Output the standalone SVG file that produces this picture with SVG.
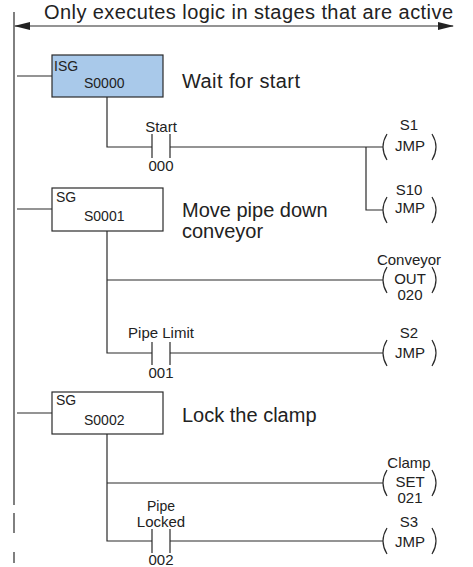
<svg xmlns="http://www.w3.org/2000/svg" width="473" height="567" viewBox="0 0 473 567">
<style>
.ln{stroke:#2a2a2a;stroke-width:1.2;fill:none}
.t{font-family:"Liberation Sans",Arial,sans-serif;fill:#222}
.s{font-size:14px}
.m{font-size:15px;text-anchor:middle}
.b{font-size:20px}
.box{stroke:#2a2a2a;stroke-width:1.2}
</style>
<defs>
<marker id="ah" markerWidth="16" markerHeight="8" refX="15" refY="4" orient="auto-start-reverse" markerUnits="userSpaceOnUse">
<path d="M0,0 L16,4 L0,8 Z" fill="#222"/>
</marker>
</defs>
<rect width="473" height="567" fill="#fff"/>
<text class="t b" x="44" y="19" textLength="409">Only executes logic in stages that are active</text>
<g id="connectors">
<line class="ln" x1="14" y1="12" x2="14" y2="505"/>
<line class="ln" x1="14" y1="513" x2="14" y2="533"/>
<line class="ln" x1="14" y1="552" x2="14" y2="563"/>
<line class="ln" x1="15" y1="26" x2="453" y2="26" marker-start="url(#ah)" marker-end="url(#ah)"/>
<line class="ln" x1="17" y1="76" x2="52" y2="76"/>
<line class="ln" x1="17" y1="209" x2="52" y2="209"/>
<line class="ln" x1="17" y1="413" x2="52" y2="413"/>
<path class="ln" d="M107,97 V147 H152 M170,147 H383 M366,147 V210 H383"/>
<path class="ln" d="M107,231 V353 H152 M170,353 H383 M107,280 H383"/>
<path class="ln" d="M107,434 V541 H152 M170,541 H383 M107,483 H383"/>
</g>
<g id="isg0">
<rect class="box" x="52" y="55" width="111" height="42" fill="#a9c9ea"/>
<text class="t s" x="54" y="71">ISG</text>
<text class="t s" x="84" y="88">S0000</text>
<text class="t b" x="182" y="88" textLength="118">Wait for start</text>
</g>
<g id="sg1">
<rect class="box" x="52" y="188" width="111" height="43" fill="#fff"/>
<text class="t s" x="56" y="202">SG</text>
<text class="t s" x="84" y="221">S0001</text>
<text class="t b" x="182" y="217">Move pipe down</text>
<text class="t b" x="182" y="238">conveyor</text>
</g>
<g id="sg2">
<rect class="box" x="52" y="392" width="111" height="42" fill="#fff"/>
<text class="t s" x="56" y="405">SG</text>
<text class="t s" x="84" y="425">S0002</text>
<text class="t b" x="182" y="422">Lock the clamp</text>
</g>
<g id="c000">
<path class="ln" d="M152,134 V158 M170,134 V158"/>
<text class="t m" x="161" y="132">Start</text>
<text class="t m" x="161" y="171">000</text>
</g>
<g id="c001">
<path class="ln" d="M152,342 V365 M170,342 V365"/>
<text class="t m" x="161" y="338">Pipe Limit</text>
<text class="t m" x="161" y="378">001</text>
</g>
<g id="c002">
<path class="ln" d="M152,529 V553 M170,529 V553"/>
<text class="t m" x="161" y="511" style="font-size:14px">Pipe</text>
<text class="t m" x="161" y="527">Locked</text>
<text class="t m" x="161" y="565">002</text>
</g>
<g id="coilS1">
<path class="ln" d="M387,134 Q379,147 387,160 M432,134 Q440,147 432,160"/>
<text class="t m" x="409" y="130">S1</text>
<text class="t m" x="410" y="151">JMP</text>
</g>
<g id="coilS10">
<path class="ln" d="M387,197 Q379,210 387,223 M432,197 Q440,210 432,223"/>
<text class="t m" x="409" y="195">S10</text>
<text class="t m" x="410" y="213">JMP</text>
</g>
<g id="coilOUT">
<path class="ln" d="M387,267 Q379,280 387,293 M432,267 Q440,280 432,293"/>
<text class="t m" x="409" y="265">Conveyor</text>
<text class="t m" x="410" y="284">OUT</text>
<text class="t m" x="410" y="300">020</text>
</g>
<g id="coilS2">
<path class="ln" d="M387,340 Q379,353 387,366 M432,340 Q440,353 432,366"/>
<text class="t m" x="409" y="338">S2</text>
<text class="t m" x="410" y="358">JMP</text>
</g>
<g id="coilSET">
<path class="ln" d="M387,470 Q379,483 387,496 M432,470 Q440,483 432,496"/>
<text class="t m" x="409" y="468">Clamp</text>
<text class="t m" x="410" y="487">SET</text>
<text class="t m" x="410" y="503">021</text>
</g>
<g id="coilS3">
<path class="ln" d="M387,528 Q379,541 387,554 M432,528 Q440,541 432,554"/>
<text class="t m" x="409" y="527">S3</text>
<text class="t m" x="410" y="547">JMP</text>
</g>
</svg>
